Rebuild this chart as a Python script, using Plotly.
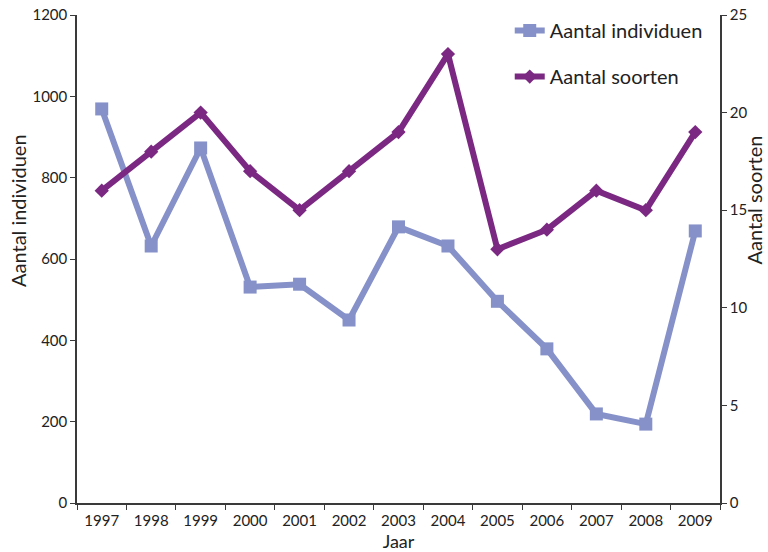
import plotly.graph_objects as go

# Yearly survey counts
jaren = ["1997", "1998", "1999", "2000", "2001", "2002", "2003",
         "2004", "2005", "2006", "2007", "2008", "2009"]
individuen = [969, 632, 873, 531, 538, 450, 679, 632, 496, 379, 219, 194, 669]
soorten = [16, 18, 20, 17, 15, 17, 19, 23, 13, 14, 16, 15, 19]

KLEUR_IND = "#8591C8"
KLEUR_SRT = "#7B2883"
AS_KLEUR = "#3a3a3a"
FONT = "Lato"

fig = go.Figure()
fig.add_trace(go.Scatter(
    x=jaren, y=individuen, name="Aantal individuen", mode="lines+markers",
    line=dict(color=KLEUR_IND, width=6),
    marker=dict(symbol="square", size=13, color=KLEUR_IND),
    legendgroup="a",
))
fig.add_trace(go.Scatter(
    x=jaren, y=soorten, name="Aantal soorten", mode="lines+markers",
    line=dict(color=KLEUR_SRT, width=6),
    marker=dict(symbol="diamond", size=11, color=KLEUR_SRT),
    yaxis="y2", legendgroup="b",
))

fig.update_layout(
    width=768, height=552,
    margin=dict(l=77, r=48, t=15, b=49, autoexpand=False),
    paper_bgcolor="white", plot_bgcolor="white",
    font=dict(family=FONT, size=15, color="#222"),
    showlegend=True,
    legend=dict(
        x=0.673, y=1.008, xanchor="left", yanchor="top",
        font=dict(size=20, color="#222"),
        tracegroupgap=17, traceorder="grouped",
        bgcolor="rgba(0,0,0,0)", itemwidth=30,
    ),
    xaxis=dict(
        type="category", tickson="boundaries", ticks="outside", ticklen=5,
        tickcolor=AS_KLEUR, showline=True, linecolor=AS_KLEUR, linewidth=1.5,
        showgrid=False, zeroline=False, automargin=False,
        range=[-0.5, len(jaren) - 0.5], ticklabelstandoff=3,
        tickfont=dict(size=15),
        title=dict(text="Jaar", font=dict(size=18), standoff=8),
    ),
    yaxis=dict(
        range=[0, 1200], dtick=200, ticks="outside", ticklen=5,
        tickcolor=AS_KLEUR, showline=True, linecolor=AS_KLEUR, linewidth=1.5,
        showgrid=False, zeroline=False, automargin=False, tickfont=dict(size=15),
    ),
    yaxis2=dict(
        range=[0, 25], dtick=5, overlaying="y", side="right",
        ticks="outside", ticklen=5, tickcolor=AS_KLEUR,
        showline=True, linecolor=AS_KLEUR, linewidth=1.5, automargin=False,
        showgrid=False, zeroline=False, tickfont=dict(size=15),
    ),
    annotations=[
        dict(text="Aantal individuen", textangle=-90, xref="paper", yref="paper",
             x=-0.092, y=0.6, xanchor="center", yanchor="middle",
             showarrow=False, font=dict(size=20, color="#222")),
        dict(text="Aantal soorten", textangle=-90, xref="paper", yref="paper",
             x=1.053, y=0.62, xanchor="center", yanchor="middle",
             showarrow=False, font=dict(size=20, color="#222")),
    ],
)

fig.write_html("out.html")
